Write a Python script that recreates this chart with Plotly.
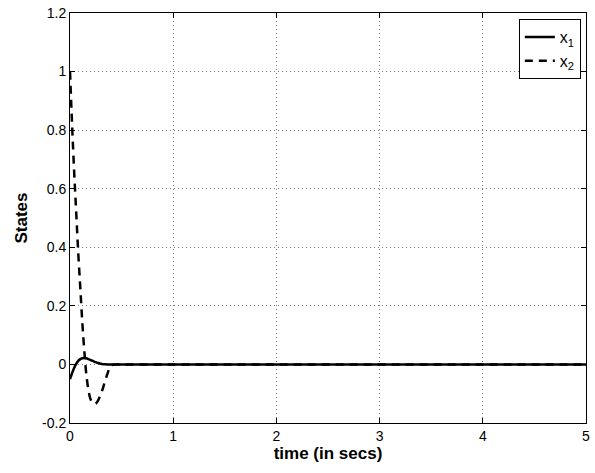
import plotly.graph_objects as go

t = [0, 0.02, 0.04, 0.06, 0.08, 0.10, 0.12, 0.14, 0.16, 0.18, 0.20, 0.22, 0.24, 0.26,
     0.28, 0.30, 0.32, 0.34, 0.36, 0.38, 0.40, 0.45, 0.5, 1, 2, 3, 4, 5]
x1 = [-0.05, -0.03, -0.012, 0.002, 0.012, 0.018, 0.021, 0.022, 0.021, 0.018, 0.015,
      0.012, 0.009, 0.006, 0.004, 0.002, 0.001, 0.0005, 0, 0, 0, 0, 0, 0, 0, 0, 0, 0]
x2 = [1.0, 0.82, 0.66, 0.52, 0.38, 0.26, 0.14, 0.04, -0.04, -0.09, -0.12, -0.13,
      -0.135, -0.13, -0.117, -0.10, -0.08, -0.055, -0.035, -0.015, -0.003, 0, 0, 0, 0, 0, 0, 0]

xticks = [0, 1, 2, 3, 4, 5]
yticks = [-0.2, 0, 0.2, 0.4, 0.6, 0.8, 1, 1.2]
yticklabels = ["-0.2", "0", "0.2", "0.4", "0.6", "0.8", "1", "1.2"]

fig = go.Figure()
fig.add_trace(go.Scatter(x=t, y=x1, mode="lines", name="x<sub>1</sub>",
                         line=dict(color="black", width=2.5, shape="spline")))
fig.add_trace(go.Scatter(x=t, y=x2, mode="lines", name="x<sub>2</sub>",
                         line=dict(color="black", width=2.5, dash="8px,6px", shape="spline")))

axis_common = dict(showline=True, linecolor="black", linewidth=1, mirror="allticks",
                   ticks="inside", ticklen=5, tickcolor="black",
                   showgrid=True, gridcolor="#777", griddash="1px,3px", gridwidth=1,
                   zeroline=False,
                   tickfont=dict(family="Liberation Sans, Arial", size=14, color="black"))

fig.update_layout(
    width=595, height=473,
    margin=dict(l=70, r=5, t=12, b=50),
    plot_bgcolor="white", paper_bgcolor="white",
    font=dict(family="Liberation Sans, Arial", color="black"),
    xaxis=dict(range=[0, 5], tickvals=xticks, ticktext=[str(v) for v in xticks],
               title=dict(text="<b>time (in secs)</b>", font=dict(size=17), standoff=1),
               **axis_common),
    yaxis=dict(range=[-0.2, 1.2], tickvals=yticks, ticktext=yticklabels,
               title=dict(text="<b>States</b>", font=dict(size=17), standoff=10),
               **axis_common),
    legend=dict(x=0.99, y=0.985, xanchor="right", yanchor="top", bgcolor="white",
                bordercolor="black", borderwidth=1,
                font=dict(size=16), tracegroupgap=0),
    showlegend=True,
)

fig.write_html("out.html")
